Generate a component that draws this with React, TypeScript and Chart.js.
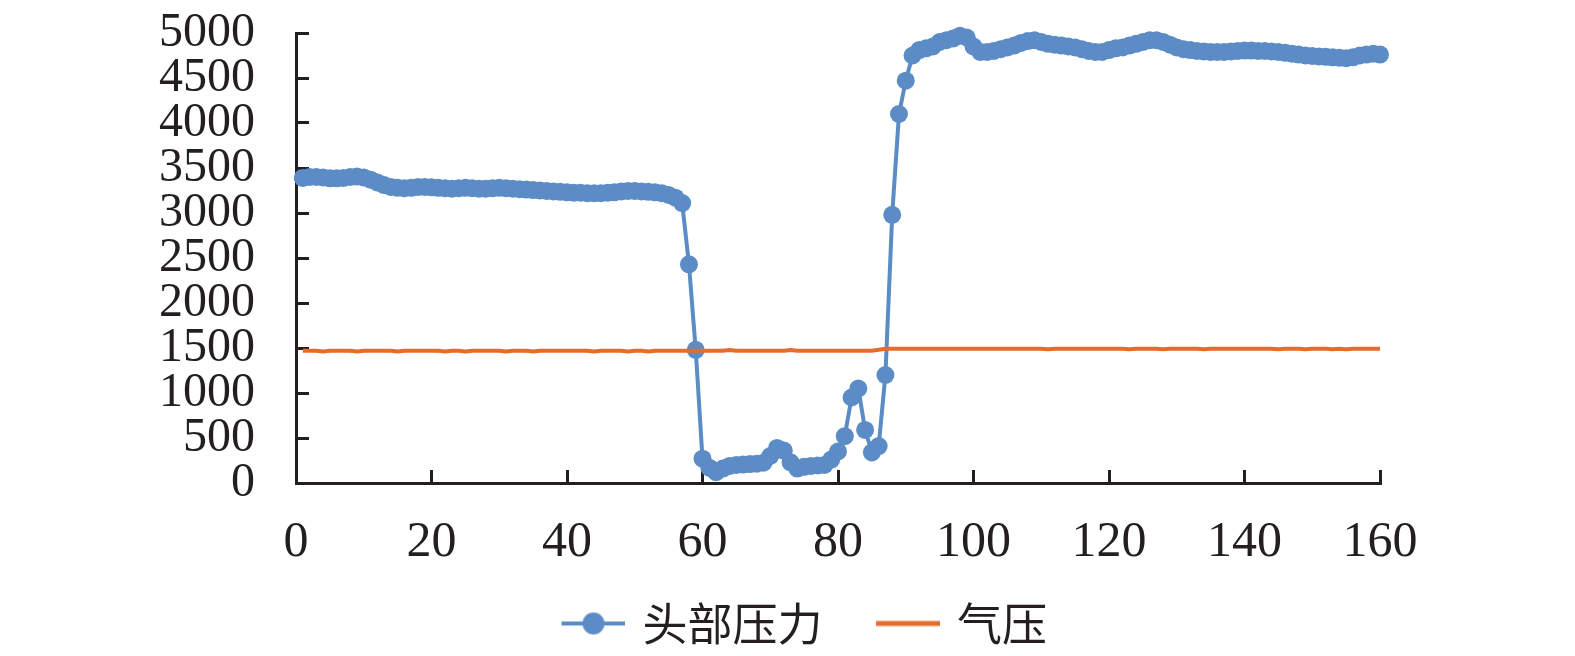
import React, { useEffect, useRef } from "react";
import { Chart, registerables } from "chart.js";

Chart.register(...registerables);

const seriesNames = ["头部压力", "气压"];

const xValues = [
  1, 2, 3, 4, 5, 6, 7, 8, 9, 10, 11, 12, 13, 14, 15, 16, 17, 18, 19, 20,
  21, 22, 23, 24, 25, 26, 27, 28, 29, 30, 31, 32, 33, 34, 35, 36, 37, 38, 39, 40,
  41, 42, 43, 44, 45, 46, 47, 48, 49, 50, 51, 52, 53, 54, 55, 56, 57, 58, 59, 60,
  61, 62, 63, 64, 65, 66, 67, 68, 69, 70, 71, 72, 73, 74, 75, 76, 77, 78, 79, 80,
  81, 82, 83, 84, 85, 86, 87, 88, 89, 90, 91, 92, 93, 94, 95, 96, 97, 98, 99, 100,
  101, 102, 103, 104, 105, 106, 107, 108, 109, 110, 111, 112, 113, 114, 115, 116, 117, 118, 119, 120,
  121, 122, 123, 124, 125, 126, 127, 128, 129, 130, 131, 132, 133, 134, 135, 136, 137, 138, 139, 140,
  141, 142, 143, 144, 145, 146, 147, 148, 149, 150, 151, 152, 153, 154, 155, 156, 157, 158, 159, 160,
];

const headPressure = [
  3390, 3400, 3400, 3395, 3385, 3385, 3390, 3400, 3405, 3395,
  3370, 3340, 3310, 3290, 3280, 3275, 3280, 3290, 3290, 3285,
  3280, 3275, 3270, 3275, 3280, 3275, 3270, 3270, 3275, 3280,
  3275, 3270, 3265, 3260, 3255, 3250, 3245, 3240, 3235, 3230,
  3225, 3225, 3220, 3220, 3220, 3225, 3230, 3240, 3245, 3245,
  3240, 3235, 3230, 3220, 3200, 3170, 3110, 2430, 1480, 270,
  170, 120, 160, 190, 200, 205, 210, 215, 225, 300,
  390, 360, 230, 160, 180, 190, 195, 200, 260, 350,
  520, 950, 1050, 590, 340, 410, 1200, 2980, 4100, 4470,
  4750, 4810, 4830, 4850, 4900, 4920, 4940, 4970, 4950, 4850,
  4790, 4790, 4800, 4820, 4840, 4860, 4890, 4910, 4920, 4900,
  4880, 4870, 4860, 4850, 4840, 4820, 4800, 4790, 4790, 4810,
  4830, 4840, 4860, 4880, 4900, 4920, 4920, 4900, 4870, 4840,
  4820, 4810, 4800, 4795, 4790, 4790, 4790, 4795, 4800, 4805,
  4805, 4800, 4800, 4795, 4790, 4780, 4770, 4760, 4750, 4745,
  4740, 4735, 4730, 4725, 4720, 4730, 4750, 4760, 4770, 4760,
];

const airPressure = [
  1470, 1470, 1470, 1462, 1470, 1470, 1470, 1470, 1462, 1470,
  1470, 1470, 1470, 1470, 1462, 1470, 1470, 1470, 1470, 1470,
  1470, 1462, 1470, 1470, 1462, 1470, 1470, 1470, 1470, 1470,
  1462, 1470, 1470, 1470, 1462, 1470, 1470, 1470, 1470, 1470,
  1470, 1470, 1470, 1462, 1470, 1470, 1470, 1470, 1462, 1470,
  1470, 1462, 1470, 1470, 1470, 1470, 1470, 1470, 1470, 1470,
  1470, 1470, 1470, 1478, 1470, 1470, 1470, 1470, 1470, 1470,
  1470, 1470, 1478, 1470, 1470, 1470, 1470, 1470, 1470, 1470,
  1470, 1470, 1470, 1470, 1470, 1480, 1492, 1492, 1492, 1492,
  1492, 1492, 1492, 1492, 1492, 1492, 1492, 1492, 1492, 1492,
  1492, 1492, 1492, 1492, 1492, 1492, 1492, 1492, 1492, 1492,
  1486, 1492, 1492, 1492, 1492, 1492, 1492, 1492, 1492, 1492,
  1492, 1492, 1486, 1492, 1492, 1492, 1492, 1486, 1492, 1492,
  1492, 1492, 1492, 1486, 1492, 1492, 1492, 1492, 1492, 1492,
  1492, 1492, 1492, 1492, 1486, 1492, 1492, 1492, 1486, 1492,
  1492, 1492, 1486, 1492, 1486, 1492, 1492, 1492, 1492, 1492,
];

const BLUE = "#5B8CC5";
const ORANGE = "#E36C2F";
const INK = "#231f20";

// legend icon geometry
const ICON_LINE = 64;
const ICON_EXTRA = 28; // extra space before each icon (item spacing)
const ICON_BOX = ICON_LINE + ICON_EXTRA;
const ICON_OVER = 11; // how far the icon reaches past its box (tighter text gap)

function makeLegendIcon(color: string, withMarker: boolean): HTMLCanvasElement {
  const c = document.createElement("canvas");
  const w = ICON_BOX + ICON_OVER;
  c.width = w;
  c.height = 26;
  const ctx = c.getContext("2d")!;
  const x0 = w - ICON_LINE;
  ctx.strokeStyle = color;
  ctx.lineWidth = withMarker ? 4 : 5;
  ctx.beginPath();
  ctx.moveTo(x0, 13);
  ctx.lineTo(w, 13);
  ctx.stroke();
  if (withMarker) {
    ctx.fillStyle = color;
    ctx.beginPath();
    ctx.arc(x0 + ICON_LINE / 2, 13, 11, 0, Math.PI * 2);
    ctx.fill();
  }
  return c;
}

export default function App() {
  const canvasRef = useRef<HTMLCanvasElement | null>(null);

  useEffect(() => {
    const canvas = canvasRef.current;
    if (!canvas) return;
    const icons = [makeLegendIcon(BLUE, true), makeLegendIcon(ORANGE, false)];
    const serif = "'Liberation Serif', 'DejaVu Serif', serif";

    const zeroPad = (s: any) => {
      s.paddingTop = 0;
      s.paddingBottom = 0;
      s.paddingLeft = 0;
      s.paddingRight = 0;
    };

    const chart = new Chart(canvas, {
      type: "line",
      data: {
        datasets: [
          {
            label: seriesNames[0],
            data: xValues.map((x, i) => ({ x, y: headPressure[i] })),
            borderColor: BLUE,
            backgroundColor: BLUE,
            borderWidth: 4,
            pointRadius: 9,
            pointBorderWidth: 0,
            pointBackgroundColor: BLUE,
            pointStyle: "circle",
            tension: 0,
            clip: false as any,
            order: 1,
          },
          {
            label: seriesNames[1],
            data: xValues.map((x, i) => ({ x, y: airPressure[i] })),
            borderColor: ORANGE,
            backgroundColor: ORANGE,
            borderWidth: 4,
            pointRadius: 0,
            tension: 0,
            clip: false as any,
            order: 0,
          },
        ],
      },
      options: {
        responsive: false,
        animation: false,
        devicePixelRatio: 1,
        layout: { padding: { top: 33, right: 0, bottom: 0, left: 0 } },
        plugins: {
          legend: {
            position: "bottom",
            labels: {
              usePointStyle: true,
              pointStyleWidth: ICON_BOX,
              padding: 20,
              color: INK,
              font: { family: "'Noto Sans CJK SC', sans-serif", size: 45 },
              generateLabels: (ch: any) => {
                const items = (Chart.defaults.plugins.legend.labels as any).generateLabels(ch);
                items.sort((a: any, b: any) => a.datasetIndex - b.datasetIndex);
                items.forEach((it: any) => {
                  it.pointStyle = icons[it.datasetIndex];
                });
                return items;
              },
            },
          },
          tooltip: { enabled: false },
        },
        scales: {
          x: {
            type: "linear",
            min: 0,
            max: 160,
            ticks: {
              stepSize: 20,
              autoSkip: false,
              padding: 43,
              color: INK,
              font: { family: serif, size: 50 },
              callback: (v: any) => String(v),
            },
            grid: {
              drawOnChartArea: false,
              drawTicks: true,
              tickLength: -13,
              tickWidth: 3,
              tickColor: INK,
            },
            border: { color: INK, width: 3 },
            afterFit: (s: any) => {
              s.height = 98;
              zeroPad(s);
            },
          },
          y: {
            type: "linear",
            position: "left",
            min: 0,
            max: 5000,
            ticks: {
              stepSize: 500,
              autoSkip: false,
              padding: 54,
              color: INK,
              font: { family: serif, size: 48, lineHeight: 0.9 },
              callback: (v: any) => String(v),
            },
            grid: {
              drawOnChartArea: false,
              drawTicks: true,
              tickLength: -13,
              tickWidth: 3,
              tickColor: INK,
            },
            border: { color: INK, width: 3 },
            afterFit: (s: any) => {
              s.width = 296;
              zeroPad(s);
            },
          },
          spacer: {
            type: "linear",
            position: "right",
            min: 0,
            max: 1,
            display: true,
            grid: { display: false, drawTicks: false },
            border: { display: false },
            ticks: { display: false },
            afterFit: (s: any) => {
              s.width = 195;
              zeroPad(s);
            },
          },
        },
      } as any,
    });

    return () => {
      chart.destroy();
    };
  }, []);

  return (
    <div style={{ position: "absolute", left: 0, top: 0, width: 1575, height: 656, background: "#fff" }}>
      <canvas ref={canvasRef} width={1575} height={656} style={{ width: 1575, height: 656, display: "block" }} />
    </div>
  );
}
